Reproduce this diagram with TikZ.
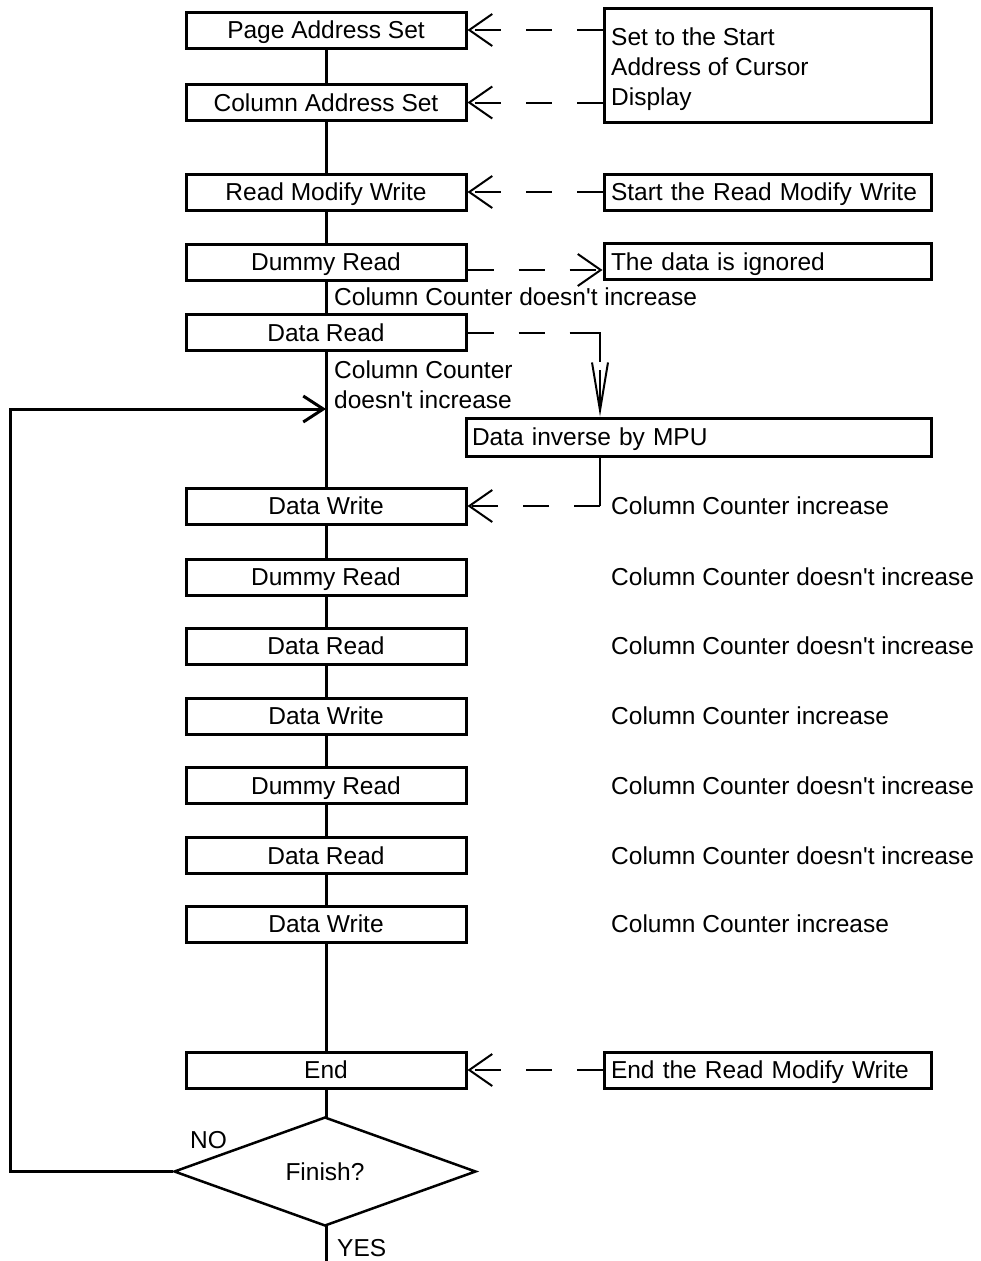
\documentclass[tikz,border=0pt]{standalone}
\usepackage{fontspec}
\setmainfont{Liberation Sans}
\usetikzlibrary{arrows.meta,shapes.geometric}
\newcommand{\dnt}{doesn\textquotesingle t}
\begin{document}
\begin{tikzpicture}[x=1pt,y=-1pt,
  font=\fontsize{24.5}{30}\selectfont,
  box/.style={draw,line width=3pt,minimum width=280pt,minimum height=36pt,inner sep=0pt,text height=17.5pt,text depth=0pt,fill=white},
  frame/.style={draw,line width=3pt,minimum width=327pt,minimum height=36pt,inner sep=0pt,fill=white},
  note/.style={frame,inner xsep=7pt,text width=313pt,align=left,text height=17.5pt,text depth=0pt},
  lbl/.style={anchor=west,inner sep=0pt,text height=17.5pt,text depth=0pt},
  mlbl/.style={anchor=west,inner sep=0pt,align=left},
  barb/.style={-{Straight Barb[length=23pt,width=32pt]}},
  dashln/.style={line width=2pt,dash pattern=on 26pt off 25pt},
  dasharrow/.style={dashln,barb},
  flow/.style={line width=3pt}]
\useasboundingbox (0,0) rectangle (980,1261);

% main flow boxes
\node[box] (pas) at (326,30) {Page Address Set};
\node[box] (cas) at (326,102.5) {Column Address Set};
\node[box] (rmw) at (326,192) {Read Modify Write};
\node[box] (dr1) at (326,262) {Dummy Read};
\node[box] (rd1) at (326,332.5) {Data Read};
\node[box] (dw1) at (326,506) {Data Write};
\node[box] (dr2) at (326,577) {Dummy Read};
\node[box] (rd2) at (326,646) {Data Read};
\node[box] (dw2) at (326,716) {Data Write};
\node[box] (dr3) at (326,785.5) {Dummy Read};
\node[box] (rd3) at (326,855.5) {Data Read};
\node[box] (dw3) at (326,924) {Data Write};
\node[box] (end) at (326,1070) {End};
\node[draw,diamond,line width=2.5pt,aspect=2.79,minimum width=302pt,minimum height=109pt,inner sep=0pt,text height=17.5pt,text depth=-12pt] (dia) at (325,1171.5) {Finish?};

% side notes
\node[frame,minimum height=114pt] (setn) at (767.5,65) {};
\node[mlbl] (setnt) at (611,69) {Set to the Start\\Address of Cursor\\Display};
\node[note] (rmwn) at (767.5,192) {Start the Read Modify Write};
\node[note] (ign) at (767.5,261.5) {The data is ignored};
\node[draw,line width=3pt,minimum width=465pt,minimum height=38pt,inner xsep=6pt,inner ysep=0pt,text width=453pt,align=left,text height=17.5pt,text depth=0pt] (inv) at (698.5,437) {Data inverse by MPU};
\node[note] (endn) at (767.5,1070) {End the Read Modify Write};

% main vertical line
\draw[flow] (pas.south) -- (cas.north);
\draw[flow] (cas.south) -- (rmw.north);
\draw[flow] (rmw.south) -- (dr1.north);
\draw[flow] (dr1.south) -- (rd1.north);
\draw[flow] (rd1.south) -- (dw1.north);
\draw[flow] (dw1.south) -- (dr2.north);
\draw[flow] (dr2.south) -- (rd2.north);
\draw[flow] (rd2.south) -- (dw2.north);
\draw[flow] (dw2.south) -- (dr3.north);
\draw[flow] (dr3.south) -- (rd3.north);
\draw[flow] (rd3.south) -- (dw3.north);
\draw[flow] (dw3.south) -- (end.north);
\coordinate (dtop) at (326,1117);
\draw[flow] (end.south) -- (dtop);
\coordinate (dbot) at (326,1226);
\coordinate (bottom) at (326,1261);
\draw[flow] (dbot) -- (bottom);

% loop back
\coordinate (loopin) at (326,409);
\draw[flow,-{Straight Barb[length=20pt,width=26pt]}] (dia.west) -- ++(-162,0) |- (loopin);

% dashed arrows
\draw[dasharrow] (setn.west |- pas.east) -- (pas.east);
\draw[dasharrow] (setn.west |- cas.east) -- (cas.east);
\draw[dasharrow] (rmwn.west) -- (rmw.east);
\draw[dasharrow] (dr1.east |- 0,270) -- (ign.west |- 0,270);
\coordinate (c0) at (570,332.5);
\coordinate (c1) at (600,332.5);
\coordinate (c1b) at (600,362);
\coordinate (c1c) at (600,370);
\draw[dashln] (rd1.east) -- (c0);
\draw[line width=2pt] (c0) -- (c1) -- (c1b);
\draw[line width=2pt,-{Straight Barb[length=48pt,width=16pt]}] (c1c) -- (c1 |- inv.north);
\coordinate (c2) at (600,506);
\draw[line width=2pt] (c2 |- inv.south) -- (c2);
\draw[dasharrow] (c2) -- (dw1.east);
\draw[dasharrow] (endn.west) -- (end.east);

% labels
\node[lbl] (l1) at (334,297) {Column Counter \dnt{} increase};
\node[mlbl] (l2) at (334,385) {Column Counter\\\dnt{} increase};
\node[lbl] (r1) at (611,506) {Column Counter increase};
\node[lbl] (r2) at (611,577) {Column Counter \dnt{} increase};
\node[lbl] (r3) at (611,646) {Column Counter \dnt{} increase};
\node[lbl] (r4) at (611,716) {Column Counter increase};
\node[lbl] (r5) at (611,785.5) {Column Counter \dnt{} increase};
\node[lbl] (r6) at (611,855.5) {Column Counter \dnt{} increase};
\node[lbl] (r7) at (611,924) {Column Counter increase};
\node[lbl] (no) at (190,1140) {NO};
\node[lbl] (yes) at (337,1248) {YES};
\end{tikzpicture}
\end{document}
